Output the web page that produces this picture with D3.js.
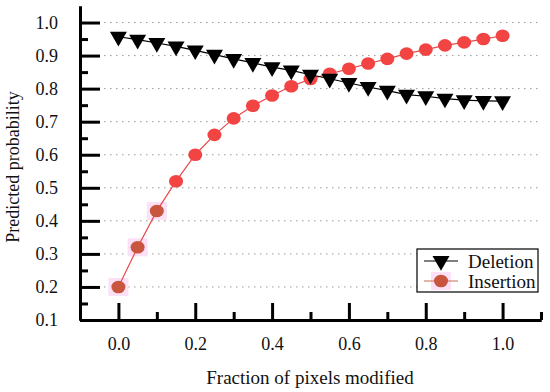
<!DOCTYPE html>
<html>
<head>
<meta charset="utf-8">
<script src="https://cdn.jsdelivr.net/npm/d3@7"></script>
<style>
  body { margin: 0; background: #fff; }
</style>
</head>
<body>
<svg id="chart" width="550" height="392"></svg>
<script>
// data
var fractions = [0.00, 0.05, 0.10, 0.15, 0.20, 0.25, 0.30, 0.35, 0.40, 0.45, 0.50,
                 0.55, 0.60, 0.65, 0.70, 0.75, 0.80, 0.85, 0.90, 0.95, 1.00];
var deletion = [0.957, 0.948, 0.938, 0.928, 0.916, 0.903, 0.890, 0.878, 0.865, 0.855, 0.842,
                0.830, 0.817, 0.805, 0.794, 0.782, 0.777, 0.770, 0.765, 0.763, 0.762];
var insertion = [0.20, 0.32, 0.43, 0.52, 0.60, 0.66, 0.71, 0.748, 0.779, 0.807, 0.829,
                 0.845, 0.86, 0.876, 0.89, 0.906, 0.918, 0.931, 0.94, 0.95, 0.96];
var xMajor = [0.0, 0.2, 0.4, 0.6, 0.8, 1.0];
var xMinor = [0.1, 0.3, 0.5, 0.7, 0.9, 1.1];
var yMajor = [0.2, 0.3, 0.4, 0.5, 0.6, 0.7, 0.8, 0.9, 1.0];
var yMinor = [0.15, 0.25, 0.35, 0.45, 0.55, 0.65, 0.75, 0.85, 0.95];
var seriesNames = ["Deletion", "Insertion"];

var serif = "Liberation Serif";

var svg = d3.select("#chart"),
    margin = { top: 6, right: 9, bottom: 72, left: 80 },
    width = +svg.attr("width") - margin.left - margin.right,
    height = +svg.attr("height") - margin.top - margin.bottom,
    g = svg.append("g").attr("transform", "translate(" + margin.left + "," + margin.top + ")");

var x = d3.scaleLinear().domain([-0.1, 1.1]).range([0, width]);
var y = d3.scaleLinear().domain([0.1, 1.05]).range([height, 0]);

// dotted grid
g.append("g").selectAll("line")
    .data(yMajor)
    .enter().append("line")
    .attr("x1", 0).attr("x2", width)
    .attr("y1", function (d) { return y(d); })
    .attr("y2", function (d) { return y(d); })
    .attr("stroke", "#999")
    .attr("stroke-width", 1)
    .attr("stroke-dasharray", "1.5,4.5");

// minor ticks
g.append("g")
    .attr("transform", "translate(0," + height + ")")
    .call(d3.axisBottom(x).tickValues(xMinor).tickSizeInner(-8).tickSizeOuter(0).tickFormat(""));
g.append("g")
    .call(d3.axisLeft(y).tickValues(yMinor).tickSizeInner(-8).tickSizeOuter(0).tickFormat(""));

// major ticks with labels
g.append("g")
    .attr("class", "axis")
    .attr("transform", "translate(0," + height + ")")
    .call(d3.axisBottom(x).tickValues(xMajor).tickSizeInner(-17).tickSizeOuter(0)
        .tickPadding(17).tickFormat(d3.format(".1f")));

g.append("g")
    .attr("class", "axis")
    .call(d3.axisLeft(y).tickValues([0.1].concat(yMajor)).tickSizeInner(-20).tickSizeOuter(0)
        .tickPadding(22).tickFormat(d3.format(".1f")));

g.selectAll(".axis").attr("font-family", serif);
g.selectAll(".domain").attr("stroke", "#000").attr("stroke-width", 3);
g.selectAll(".tick line").attr("stroke", "#000").attr("stroke-width", 3);
g.selectAll(".tick text").attr("fill", "#111").attr("font-size", 18).attr("font-family", serif);

// axis titles
svg.append("text")
    .attr("x", 310).attr("y", 384)
    .attr("text-anchor", "middle")
    .attr("font-family", serif)
    .attr("font-size", 19)
    .attr("fill", "#111")
    .text("Fraction of pixels modified");

svg.append("text")
    .attr("transform", "translate(19,167) rotate(-90)")
    .attr("text-anchor", "middle")
    .attr("font-family", serif)
    .attr("font-size", 18)
    .attr("fill", "#111")
    .text("Predicted probability");

var line = d3.line()
    .x(function (d, i) { return x(fractions[i]); })
    .y(function (d) { return y(d); });

var tri = d3.symbol().type(d3.symbolTriangle).size(125);

// Insertion: line + circles (first points have a pinkish halo)
g.selectAll(".halo")
    .data(insertion.slice(0, 3))
    .enter().append("rect")
    .attr("x", function (d, i) { return x(fractions[i]) - 10; })
    .attr("y", function (d) { return y(d) - 9; })
    .attr("width", 20).attr("height", 18)
    .attr("fill", "#fbe0f6");

g.append("path")
    .datum(insertion)
    .attr("fill", "none")
    .attr("stroke", "#e8494a")
    .attr("stroke-width", 1.2)
    .attr("d", line);

g.selectAll(".ins")
    .data(insertion)
    .enter().append("ellipse")
    .attr("cx", function (d, i) { return x(fractions[i]); })
    .attr("cy", function (d) { return y(d); })
    .attr("rx", 7).attr("ry", 6.3)
    .attr("fill", function (d, i) { return i < 3 ? "#c8553d" : "#f34444"; });

// Deletion: line + down triangles
g.append("path")
    .datum(deletion)
    .attr("fill", "none")
    .attr("stroke", "#000")
    .attr("stroke-width", 1.2)
    .attr("d", line);

g.selectAll(".del")
    .data(deletion)
    .enter().append("path")
    .attr("d", tri)
    .attr("transform", function (d, i) { return "translate(" + x(fractions[i]) + "," + y(d) + ") rotate(180)"; })
    .attr("fill", "#000");

// legend
var legend = svg.append("g").attr("transform", "translate(417,249)");
legend.append("rect")
    .attr("width", 121).attr("height", 43)
    .attr("fill", "#fff").attr("stroke", "#000").attr("stroke-width", 1.2);

var rows = legend.selectAll(".row")
    .data(seriesNames)
    .enter().append("g")
    .attr("transform", function (d, i) { return "translate(0," + (12 + i * 20) + ")"; });

rows.append("rect")
    .attr("x", 14).attr("y", -9).attr("width", 20).attr("height", 18)
    .attr("fill", function (d, i) { return i === 1 ? "#fbe0f6" : "none"; });
rows.append("line")
    .attr("x1", 7).attr("x2", 41)
    .attr("stroke", function (d, i) { return i === 0 ? "#000" : "#c87050"; })
    .attr("stroke-width", 1.2);
rows.each(function (d, i) {
    var r = d3.select(this);
    if (i === 0) {
        r.append("path").attr("d", tri).attr("transform", "translate(24,0) rotate(180)").attr("fill", "#000");
    } else {
        r.append("ellipse").attr("cx", 24).attr("rx", 7).attr("ry", 6.3).attr("fill", "#c8553d");
    }
});
rows.append("text")
    .attr("x", 51).attr("dy", "0.35em")
    .attr("font-family", serif)
    .attr("font-size", 19)
    .attr("fill", "#111")
    .text(function (d) { return d; });
</script>
</body>
</html>
